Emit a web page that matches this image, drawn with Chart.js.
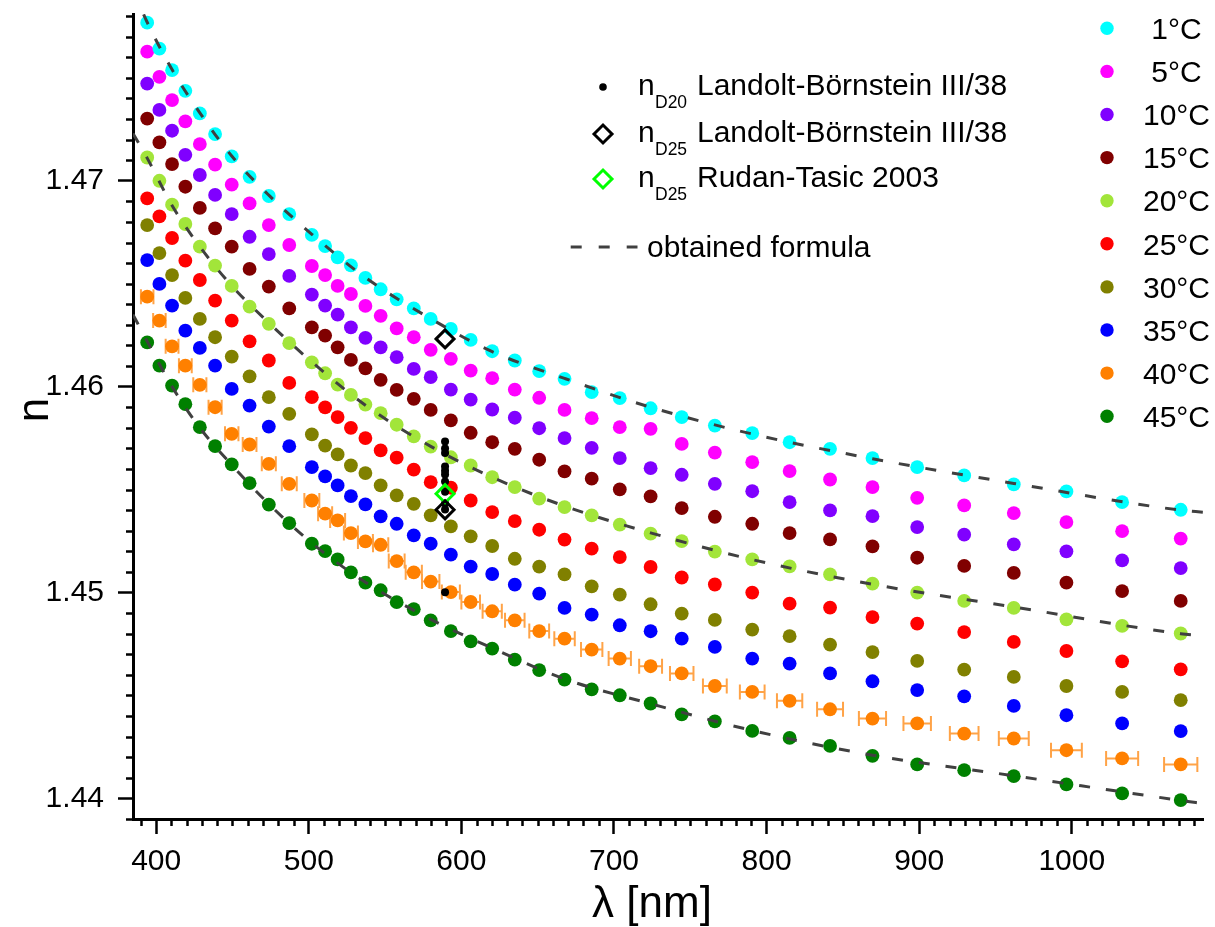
<!DOCTYPE html>
<html><head><meta charset="utf-8">
<script src="https://cdn.jsdelivr.net/npm/chart.js@4.4.0/dist/chart.umd.min.js"></script>
<style>html,body{margin:0;padding:0;background:#fff}canvas{display:block}</style>
</head><body>
<canvas id="c" width="1215" height="927"></canvas>
<script>
// ---------------- data ----------------
const wavelengths = [394.1, 402.1, 410.4, 419.1, 428.6, 438.6, 449.5, 461.2, 473.8, 487.2,
  502.0, 510.7, 518.9, 527.6, 537.1, 547.1, 557.6, 568.8, 579.9, 593.1,
  606.1, 620.2, 635.0, 651.0, 667.6, 685.4, 703.8, 724.0, 744.4, 766.1,
  790.6, 815.1, 841.6, 869.4, 898.7, 929.5, 962.0, 996.5, 1033.0, 1071.4];

const n01C = [1.47768, 1.47642, 1.47537, 1.47437, 1.47327, 1.47227, 1.47118, 1.47019, 1.46926, 1.46838,
  1.46737, 1.46683, 1.46628, 1.46589, 1.46528, 1.46473, 1.46424, 1.46380, 1.46329, 1.46280,
  1.46227, 1.46172, 1.46127, 1.46075, 1.46038, 1.45973, 1.45944, 1.45895, 1.45852, 1.45811,
  1.45774, 1.45730, 1.45698, 1.45653, 1.45609, 1.45569, 1.45525, 1.45491, 1.45439, 1.45402];
const n05C = [1.47627, 1.47505, 1.47392, 1.47288, 1.47178, 1.47078, 1.46981, 1.46890, 1.46785, 1.46688,
  1.46586, 1.46542, 1.46489, 1.46450, 1.46392, 1.46344, 1.46283, 1.46240, 1.46179, 1.46135,
  1.46078, 1.46041, 1.45986, 1.45946, 1.45887, 1.45847, 1.45803, 1.45795, 1.45722, 1.45680,
  1.45633, 1.45590, 1.45549, 1.45512, 1.45460, 1.45423, 1.45386, 1.45342, 1.45298, 1.45262];
const n10C = [1.47472, 1.47344, 1.47243, 1.47126, 1.47028, 1.46931, 1.46838, 1.46728, 1.46644, 1.46538,
  1.46447, 1.46394, 1.46350, 1.46288, 1.46237, 1.46191, 1.46143, 1.46086, 1.46046, 1.45986,
  1.45937, 1.45889, 1.45849, 1.45798, 1.45750, 1.45703, 1.45653, 1.45604, 1.45572, 1.45528,
  1.45492, 1.45439, 1.45399, 1.45371, 1.45318, 1.45281, 1.45234, 1.45200, 1.45156, 1.45119];
const n15C = [1.47302, 1.47186, 1.47081, 1.46971, 1.46868, 1.46769, 1.46680, 1.46572, 1.46486, 1.46380,
  1.46288, 1.46248, 1.46191, 1.46130, 1.46089, 1.46033, 1.45984, 1.45941, 1.45887, 1.45836,
  1.45776, 1.45730, 1.45698, 1.45645, 1.45588, 1.45553, 1.45501, 1.45467, 1.45410, 1.45368,
  1.45334, 1.45289, 1.45258, 1.45224, 1.45169, 1.45129, 1.45095, 1.45048, 1.45007, 1.44959];
const n20C = [1.47113, 1.47000, 1.46884, 1.46790, 1.46680, 1.46588, 1.46489, 1.46389, 1.46305, 1.46211,
  1.46118, 1.46065, 1.46010, 1.45960, 1.45913, 1.45871, 1.45815, 1.45758, 1.45709, 1.45657,
  1.45617, 1.45560, 1.45512, 1.45456, 1.45415, 1.45375, 1.45330, 1.45286, 1.45250, 1.45199,
  1.45161, 1.45127, 1.45088, 1.45043, 1.45000, 1.44959, 1.44925, 1.44870, 1.44838, 1.44801];
const n25C = [1.46914, 1.46827, 1.46722, 1.46612, 1.46518, 1.46418, 1.46321, 1.46220, 1.46127, 1.46018,
  1.45949, 1.45899, 1.45852, 1.45800, 1.45750, 1.45690, 1.45655, 1.45597, 1.45536, 1.45509,
  1.45447, 1.45391, 1.45347, 1.45305, 1.45257, 1.45213, 1.45172, 1.45124, 1.45073, 1.45039,
  1.45000, 1.44946, 1.44927, 1.44881, 1.44849, 1.44808, 1.44760, 1.44716, 1.44666, 1.44627];
const n30C = [1.46785, 1.46649, 1.46542, 1.46431, 1.46329, 1.46240, 1.46146, 1.46050, 1.45949, 1.45868,
  1.45768, 1.45714, 1.45671, 1.45617, 1.45580, 1.45520, 1.45472, 1.45431, 1.45375, 1.45321,
  1.45273, 1.45226, 1.45164, 1.45126, 1.45088, 1.45030, 1.44990, 1.44943, 1.44898, 1.44867,
  1.44820, 1.44788, 1.44747, 1.44711, 1.44668, 1.44626, 1.44590, 1.44546, 1.44517, 1.44477];
const n35C = [1.46615, 1.46499, 1.46394, 1.46272, 1.46188, 1.46102, 1.45989, 1.45908, 1.45806, 1.45711,
  1.45609, 1.45564, 1.45520, 1.45468, 1.45428, 1.45370, 1.45334, 1.45278, 1.45237, 1.45184,
  1.45126, 1.45090, 1.45038, 1.44995, 1.44925, 1.44893, 1.44841, 1.44812, 1.44776, 1.44736,
  1.44679, 1.44655, 1.44607, 1.44569, 1.44526, 1.44496, 1.44449, 1.44404, 1.44364, 1.44327];
const n40C = [1.46437, 1.46321, 1.46196, 1.46102, 1.46009, 1.45900, 1.45771, 1.45719, 1.45625, 1.45528,
  1.45447, 1.45383, 1.45350, 1.45289, 1.45248, 1.45232, 1.45153, 1.45098, 1.45053, 1.45002,
  1.44954, 1.44909, 1.44865, 1.44813, 1.44776, 1.44723, 1.44679, 1.44642, 1.44607, 1.44546,
  1.44517, 1.44474, 1.44433, 1.44388, 1.44364, 1.44315, 1.44291, 1.44234, 1.44194, 1.44165];
const n45C = [1.46215, 1.46102, 1.46005, 1.45915, 1.45803, 1.45711, 1.45622, 1.45531, 1.45427, 1.45337,
  1.45237, 1.45201, 1.45161, 1.45098, 1.45048, 1.45011, 1.44953, 1.44919, 1.44865, 1.44813,
  1.44763, 1.44728, 1.44674, 1.44623, 1.44577, 1.44530, 1.44501, 1.44461, 1.44408, 1.44374,
  1.44328, 1.44294, 1.44255, 1.44207, 1.44165, 1.44137, 1.44108, 1.44068, 1.44024, 1.43992];
// horizontal uncertainty of the 40 °C series (nm, half width)
const n40C_errX = [4.1, 4.1, 4.2, 4.2, 4.3, 4.3, 4.4, 4.5, 4.6, 4.9,
  4.9, 4.6, 4.9, 4.6, 4.9, 5.0, 5.2, 5.3, 5.7, 5.9,
  6.1, 6.3, 6.4, 6.5, 6.7, 7.0, 7.3, 7.5, 7.7, 7.8,
  8.1, 8.3, 8.5, 8.9, 9.0, 9.4, 9.8, 10.1, 10.5, 10.9];

const temperatureLabels = [' 1°C', ' 5°C', '10°C', '15°C', '20°C', '25°C', '30°C', '35°C', '40°C', '45°C'];

// sodium D line references
const sodiumD = 589.3;
const nD20_LB = [1.45734, 1.45700, 1.45678, 1.45612, 1.45592, 1.45573, 1.45539, 1.45490, 1.45432, 1.45403, 1.45001];
const nD25_LB = [1.46232, 1.45402];
const nD25_RT = [1.45480];

// fitted dispersion curves ("obtained formula")
const fitWavelengths = [384.8, 394.1, 410.4, 428.6, 449.5, 473.8, 502.0, 537.1, 579.9, 620.2,
  667.6, 724.0, 790.6, 869.4, 962.0, 1071.4, 1086];
const fit01C = [1.4793, 1.4777, 1.4754, 1.4733, 1.4712, 1.4693, 1.4674, 1.4653, 1.4633, 1.4617,
  1.4604, 1.4590, 1.4577, 1.4565, 1.4553, 1.4540, 1.4539];
const fit20C = [1.4723, 1.4711, 1.4688, 1.4668, 1.4649, 1.4631, 1.4612, 1.4591, 1.4571, 1.4556,
  1.4542, 1.4529, 1.4516, 1.4504, 1.4493, 1.4480, 1.4479];
const fit45C = [1.4635, 1.4622, 1.4600, 1.4580, 1.4562, 1.4543, 1.4524, 1.4505, 1.4487, 1.4473,
  1.4458, 1.4446, 1.4433, 1.4421, 1.4411, 1.4399, 1.43975];

const xTicks = [400, 500, 600, 700, 800, 900, 1000];
const yTicks = [1.44, 1.45, 1.46, 1.47];
const xRange = [384.8, 1086];
const yRange = [1.439, 1.4781];

// ---------------- styles ----------------
const FONT = "'Liberation Sans', Arial, Helvetica, sans-serif";
const seriesColors = ['#00FFFF', '#FF00FF', '#8000FF', '#800000', '#A2E53A',
  '#FF0000', '#808000', '#0000FF', '#FF8000', '#008000'];
const temperatureSeries = [n01C, n05C, n10C, n15C, n20C, n25C, n30C, n35C, n40C, n45C];
const FIT_COLOR = '#404040';

const pts = (xs, ys) => ys.map((y, i) => ({x: xs[i], y}));
const atD = (ys) => ys.map(y => ({x: sodiumD, y}));

const datasets = [];
[fit01C, fit20C, fit45C].forEach((f) => {
  datasets.push({
    label: 'obtained formula', data: pts(fitWavelengths, f), showLine: true,
    borderColor: FIT_COLOR, borderWidth: 3, borderDash: [11, 16], pointRadius: 0,
    cubicInterpolationMode: 'monotone', fill: false, order: 0
  });
});
datasets.push({label: 'nD25 Landolt-Börnstein III/38', data: atD(nD25_LB), pointStyle: 'rectRot',
  pointRadius: 9, pointBorderWidth: 3, pointBorderColor: '#000', pointBackgroundColor: 'rgba(0,0,0,0)', order: 1});
datasets.push({label: 'nD25 Rudan-Tasic 2003', data: atD(nD25_RT), pointStyle: 'rectRot',
  pointRadius: 9, pointBorderWidth: 3, pointBorderColor: '#00FF00', pointBackgroundColor: 'rgba(0,0,0,0)', order: 1});
datasets.push({label: 'nD20 Landolt-Börnstein III/38', data: atD(nD20_LB), pointRadius: 4,
  pointBorderWidth: 0, pointBackgroundColor: '#000', order: 2});
temperatureSeries.forEach((s, i) => {
  datasets.push({label: temperatureLabels[i], data: pts(wavelengths, s), pointRadius: 6.9,
    pointBorderWidth: 0, pointBackgroundColor: seriesColors[i], isTemp: true,
    order: 3 + i});
});

// ---------------- plugins ----------------
const extras = {
  id: 'extras',
  beforeDatasetsDraw(chart) {
    const {ctx, scales: {x, y}} = chart;
    ctx.save();
    ctx.strokeStyle = '#FFA347';
    ctx.lineWidth = 2;
    n40C.forEach((v, i) => {
      const py = y.getPixelForValue(v);
      const x1 = x.getPixelForValue(wavelengths[i] - n40C_errX[i]);
      const x2 = x.getPixelForValue(wavelengths[i] + n40C_errX[i]);
      ctx.beginPath();
      ctx.moveTo(x1, py); ctx.lineTo(x2, py);
      ctx.moveTo(x1, py - 7.5); ctx.lineTo(x1, py + 7.5);
      ctx.moveTo(x2, py - 7.5); ctx.lineTo(x2, py + 7.5);
      ctx.stroke();
    });
    ctx.restore();
  },
  afterDraw(chart) {
    const {ctx, chartArea: ca, scales: {x, y}} = chart;
    ctx.save();
    // minor ticks
    ctx.strokeStyle = '#000';
    ctx.lineWidth = 2.5;
    ctx.beginPath();
    for (let v = 390; v <= 1080; v += 10) {
      if (v % 100 === 0) continue;
      const px = Math.round(x.getPixelForValue(v)) + 0.5;
      ctx.moveTo(px, ca.bottom); ctx.lineTo(px, ca.bottom + 7);
    }
    for (let k = 1439; k <= 1478; k++) {
      if (k % 10 === 0) continue;
      const py = Math.round(y.getPixelForValue(k / 1000)) + 0.5;
      ctx.moveTo(ca.left, py); ctx.lineTo(ca.left - 7, py);
    }
    ctx.stroke();

    // axis titles
    ctx.fillStyle = '#000';
    ctx.textAlign = 'center';
    ctx.textBaseline = 'alphabetic';
    ctx.font = '44px ' + FONT;
    ctx.fillText('λ [nm]', 652, 917);
    ctx.save();
    ctx.translate(48, 410);
    ctx.rotate(-Math.PI / 2);
    ctx.fillText('n', 0, 0);
    ctx.restore();

    // temperature legend
    ctx.textAlign = 'left';
    chart.data.datasets.filter(d => d.isTemp).forEach((d, i) => {
      const cy = 28.3 + i * 43.1;
      ctx.fillStyle = d.pointBackgroundColor;
      ctx.beginPath(); ctx.arc(1107, cy, 6.7, 0, Math.PI * 2); ctx.fill();
      ctx.fillStyle = '#000';
      ctx.font = '30px ' + FONT;
      ctx.fillText(d.label, 1143, cy + 10.7);
    });

    // reference legend
    const rows = [
      {cy: 87, sub: 'D20', rest: 'Landolt-Börnstein III/38', sym: 'dot', color: '#000'},
      {cy: 134, sub: 'D25', rest: 'Landolt-Börnstein III/38', sym: 'dia', color: '#000'},
      {cy: 179, sub: 'D25', rest: 'Rudan-Tasic 2003', sym: 'dia', color: '#00FF00'}
    ];
    rows.forEach(r => {
      if (r.sym === 'dot') {
        ctx.fillStyle = r.color;
        ctx.beginPath(); ctx.arc(603, r.cy, 3.8, 0, Math.PI * 2); ctx.fill();
      } else {
        ctx.strokeStyle = r.color; ctx.lineWidth = 3;
        ctx.beginPath();
        ctx.moveTo(594, r.cy); ctx.lineTo(603, r.cy - 9); ctx.lineTo(612, r.cy); ctx.lineTo(603, r.cy + 9);
        ctx.closePath(); ctx.stroke();
      }
      ctx.fillStyle = '#000';
      ctx.font = '30px ' + FONT;
      ctx.fillText('n', 638, r.cy + 8);
      ctx.font = '17.5px ' + FONT;
      ctx.fillText(r.sub, 655, r.cy + 21);
      ctx.font = '30px ' + FONT;
      ctx.fillText(r.rest, 697, r.cy + 8);
    });
    // fit legend
    ctx.strokeStyle = FIT_COLOR; ctx.lineWidth = 3;
    ctx.setLineDash([11, 17]);
    ctx.beginPath(); ctx.moveTo(570.7, 247); ctx.lineTo(637.5, 247); ctx.stroke();
    ctx.setLineDash([]);
    ctx.fillStyle = '#000';
    ctx.font = '30px ' + FONT;
    ctx.fillText('obtained formula', 647, 257);
    ctx.restore();
  }
};

Chart.defaults.font.family = FONT;
new Chart(document.getElementById('c'), {
  type: 'scatter',
  data: {datasets},
  options: {
    responsive: false, animation: false, devicePixelRatio: 1,
    layout: {padding: {left: 0, top: 14, right: 5, bottom: 0}},
    plugins: {legend: {display: false}, tooltip: {enabled: false}},
    scales: {
      x: {
        type: 'linear', min: xRange[0], max: xRange[1],
        afterFit(s) { s.height = 108; s.paddingLeft = 0; s.paddingRight = 0; },
        afterBuildTicks(s) { s.ticks = xTicks.map(v => ({value: v})); },
        border: {display: true, color: '#000', width: 3},
        grid: {display: true, drawOnChartArea: false, drawTicks: true, tickLength: 15, tickWidth: 2.5, tickColor: '#000'},
        ticks: {color: '#000', font: {size: 30}, padding: 10, maxRotation: 0, autoSkip: false,
          callback: v => String(v)}
      },
      y: {
        type: 'linear', min: yRange[0], max: yRange[1],
        afterFit(s) { s.width = 133; s.paddingTop = 0; s.paddingBottom = 0; },
        afterBuildTicks(s) { s.ticks = yTicks.map(v => ({value: v})); },
        border: {display: true, color: '#000', width: 3},
        grid: {display: true, drawOnChartArea: false, drawTicks: true, tickLength: 15, tickWidth: 2.5, tickColor: '#000'},
        ticks: {color: '#000', font: {size: 30}, padding: 14, autoSkip: false,
          callback: v => v.toFixed(2)}
      }
    }
  },
  plugins: [extras]
});
</script>
</body></html>
